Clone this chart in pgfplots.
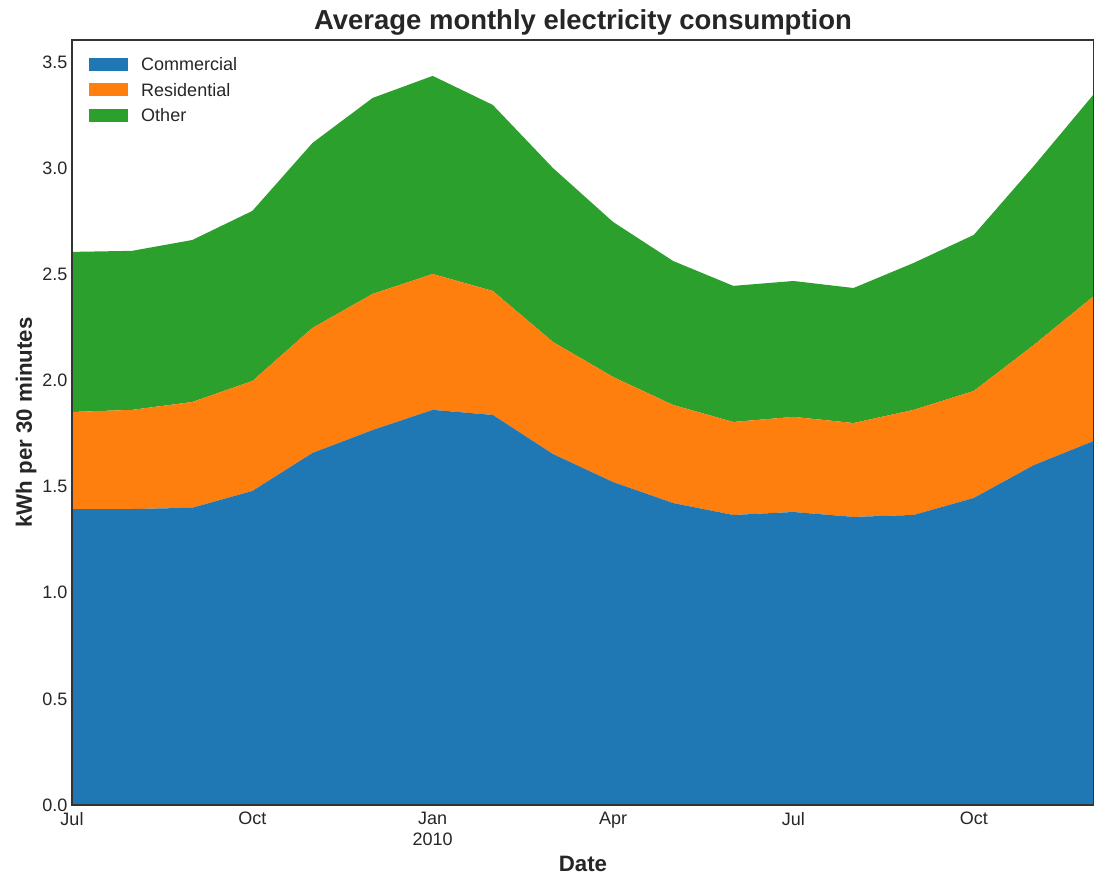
\documentclass[border=0pt]{standalone}
\usepackage{fontspec}
\setmainfont{Liberation Sans}
\usepackage{pgfplots}
\usepackage{pgfplotstable}
\pgfplotsset{compat=1.18}
\definecolor{cA}{HTML}{1F77B4}
\definecolor{cB}{HTML}{FF7F0E}
\definecolor{cC}{HTML}{2CA02C}
\definecolor{txt}{HTML}{262626}
\pgfplotstableread{
i com res oth
0 1.394 0.457 0.754
1 1.394 0.467 0.749
2 1.400 0.498 0.763
3 1.479 0.518 0.801
4 1.658 0.589 0.871
5 1.766 0.641 0.923
6 1.861 0.640 0.933
7 1.837 0.584 0.876
8 1.653 0.528 0.819
9 1.521 0.495 0.730
10 1.422 0.462 0.678
11 1.366 0.438 0.641
12 1.380 0.448 0.640
13 1.357 0.442 0.636
14 1.366 0.495 0.692
15 1.446 0.504 0.735
16 1.601 0.566 0.843
17 1.715 0.683 0.951
}\data
\begin{document}
\begin{tikzpicture}
\begin{axis}[
  at={(0,0)}, anchor=south west,
  scale only axis, width=766.5pt, height=573.75pt,
  xmin=0, xmax=17, ymin=0, ymax=3.603,
  stack plots=y, area style,
  axis on top,
  axis line style={draw=black!80, line width=1.1pt},
  tick style={draw=none},
  xtick={0,3,6,9,12,15},
  xticklabels={Jul,Oct,Jan\\2010,Apr,Jul,Oct},
  xticklabel style={align=center, yshift=-2pt, font=\fontsize{13.5}{15.5}\selectfont, text=txt},
  ytick={0,0.5,1,1.5,2,2.5,3,3.5},
  yticklabel style={/pgf/number format/fixed, /pgf/number format/fixed zerofill, /pgf/number format/precision=1, font=\fontsize{13.5}{16.2}\selectfont, text=txt},
  /pgf/number format/assume math mode=true,
  title={Average monthly electricity consumption},
  title style={at={(0.5,1)}, anchor=base, yshift=1.5pt, font=\bfseries\fontsize{20.6}{25}\selectfont, text=txt},
  xlabel={Date},
  xlabel style={at={(axis description cs:0.5,-0.0771)}, anchor=center, font=\bfseries\fontsize{16.7}{19}\selectfont, text=txt},
  ylabel={kWh per 30 minutes},
  ylabel style={at={(axis description cs:-0.045,0.5)}, anchor=center, rotate=0, font=\bfseries\fontsize{16.7}{19}\selectfont, text=txt},
  legend cell align=left,
  legend style={at={(rel axis cs:0.0166,0.978)}, anchor=north west, draw=none, fill=none, inner sep=0pt,
    font=\fontsize{13.5}{16.2}\selectfont, text=txt,
    nodes={inner sep=0pt, text height=10pt, text depth=3pt},
    row sep=6.2pt, column sep=9.75pt},
  legend image code/.code={\fill[#1] (0pt,-3.75pt) rectangle (29.25pt,6pt);},
]
\addplot[fill=cA, draw=none] table[x=i, y=com] {\data} \closedcycle;
\addplot[fill=cB, draw=none] table[x=i, y=res] {\data} \closedcycle;
\addplot[fill=cC, draw=none] table[x=i, y=oth] {\data} \closedcycle;
\legend{Commercial, Residential, Other}
\end{axis}
\pgfresetboundingbox
\path[use as bounding box] (-54pt,-52.5pt) rectangle (766.5pt,603.75pt);
\end{tikzpicture}
\end{document}
